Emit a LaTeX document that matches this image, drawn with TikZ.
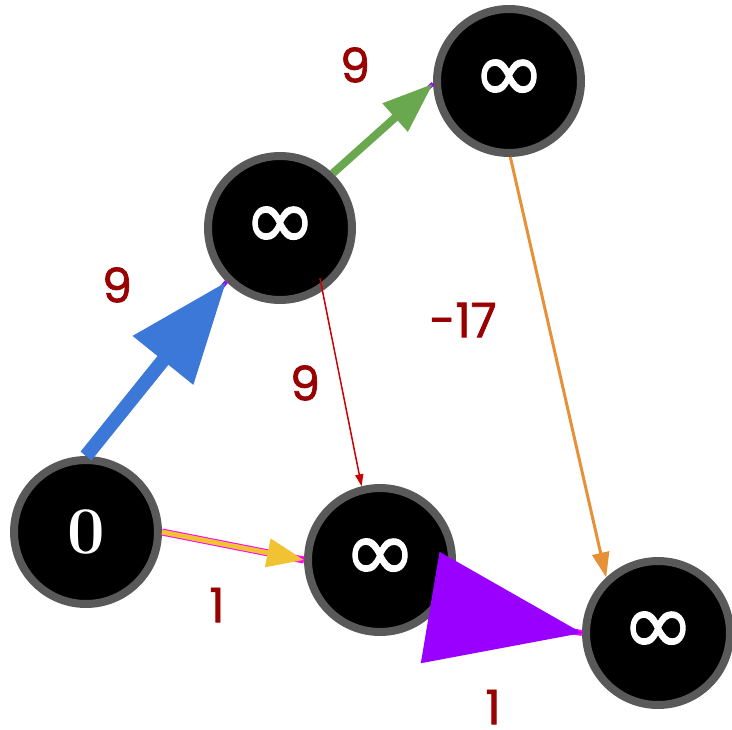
\documentclass[tikz,border=0pt]{standalone}
\usepackage{fontspec}
\newfontfamily\weightfont{Poppins}[FakeBold=1.5]
\newfontfamily\inffont{DejaVu Sans}[FakeBold=1.2]
\usepackage{tikz}
\usetikzlibrary{arrows.meta}

\definecolor{ringgray}{HTML}{595959}
\definecolor{weightred}{HTML}{990000}
\definecolor{edgeblue}{HTML}{3C78D8}
\definecolor{edgegreen}{HTML}{6AA84F}
\definecolor{edgered}{HTML}{CC0000}
\definecolor{edgeorange}{HTML}{E69138}
\definecolor{edgeyellow}{HTML}{F1C232}
\definecolor{edgeviolet}{HTML}{9900FF}
\definecolor{edgemagenta}{HTML}{FF00FF}

\tikzset{
  vertex/.style={circle, fill=black, draw=ringgray, line width=0.16cm,
    minimum size=2.88cm, inner sep=0pt, text=white},
  inf/.style={font=\inffont\fontsize{50}{52}\selectfont},
  weight/.style={text=weightred, inner sep=0pt, font=\weightfont\fontsize{27}{30}\selectfont},
  under/.style={line width=0.08cm}
}

\begin{document}
\begin{tikzpicture}[x=0.02cm, y=-0.02cm]
\useasboundingbox (0,0) rectangle (732,729);

\node [vertex, font=\bfseries\fontsize{38}{40}\selectfont] (S) at (86, 532) {0};
\node [vertex, inf] (P) at (280, 228) {∞};
\node [vertex, inf] (Q) at (509, 81) {∞};
\node [vertex, inf] (R) at (380, 560) {∞};
\node [vertex, inf] (T) at (658, 633) {∞};

\draw [under, draw=edgeviolet] (S.north) to (P.225);
\draw [-{Triangle[length=2.02cm, width=1.48cm]}, line width=0.28cm, draw=edgeblue, fill=edgeblue] (S.north) to (P.225);
\draw [under, draw=edgeviolet] (P.46) to (Q.182);
\draw [-{Triangle[length=1.02cm, width=0.72cm]}, line width=0.16cm, draw=edgegreen, fill=edgegreen] (P.46) to (Q.182);
\draw [-{Triangle[length=0.24cm, width=0.16cm]}, line width=0.03cm, draw=edgered, fill=edgered, shorten <=-0.26cm] (P.-56) to (R.104);
\draw [-{Triangle[length=0.5cm, width=0.34cm]}, line width=0.06cm, draw=edgeorange, fill=edgeorange] (Q.-89) to (T.133);
\draw [line width=0.14cm, draw=edgemagenta] (S.east) to (R.west);
\draw [-{Triangle[length=0.74cm, width=0.56cm]}, line width=0.1cm, draw=edgeyellow, fill=edgeyellow] (S.east) to (R.west);
\draw [under, line width=0.12cm, draw=edgemagenta] (R.-40) to (T.west);
\draw [-{Triangle[length=3.08cm, width=2.24cm]}, under, draw=edgeviolet, fill=edgeviolet] (R.-40) to (T.west);

\node [weight] (w1) at (117, 285) {9};
\node [weight] (w2) at (355, 65) {9};
\node [weight] (w3) at (305, 383) {9};
\node [weight] (w4) at (463, 320) {-17};
\node [weight] (w5) at (217, 605) {1};
\node [weight] (w6) at (493, 707) {1};
\end{tikzpicture}
\end{document}
